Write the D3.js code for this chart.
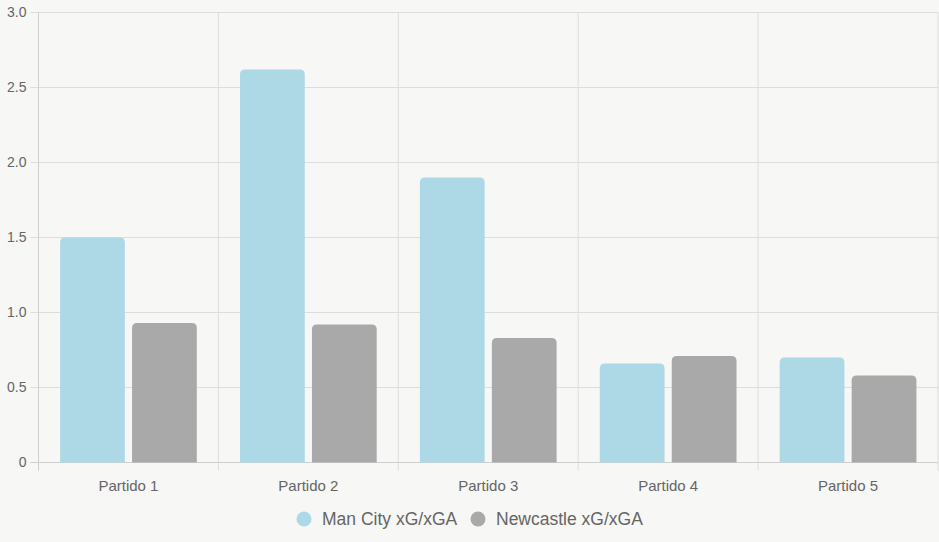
<!DOCTYPE html>
<html>
<head>
<meta charset="utf-8">
<script src="https://cdn.jsdelivr.net/npm/d3@7"></script>
<style>
	html, body { margin: 0; padding: 0; background: #f7f7f5; }
	svg { display: block; font-family: "Liberation Sans", Arial, sans-serif; }
	.grid line { stroke: #dddddd; }
	.tick text { fill: #666666; }
</style>
</head>
<body>
<div id="chart"></div>
<script>
var categories = ["Partido 1", "Partido 2", "Partido 3", "Partido 4", "Partido 5"];
var seriesNames = ["Man City xG/xGA", "Newcastle xG/xGA"];
var manCity = [1.5, 2.62, 1.9, 0.66, 0.70];
var newcastle = [0.93, 0.92, 0.83, 0.71, 0.58];
var yTicks = [0, 0.5, 1.0, 1.5, 2.0, 2.5, 3.0];
var colors = ["#add8e6", "#a9a9a9"];

(function() {
	var W = 939, H = 542,
		margin = { top: 12.5, right: 1, bottom: 80, left: 38.5 },
		width = W - margin.left - margin.right,
		height = 462.5 - margin.top,
		series = [manCity, newcastle];

	var svg = d3.select("#chart").append("svg")
		.attr("width", W)
		.attr("height", H);

	var g = svg.append("g")
		.attr("transform", "translate(" + margin.left + "," + margin.top + ")");

	var x = d3.scaleBand().domain(categories).range([0, width]).paddingInner(0).paddingOuter(0);
	var x1 = d3.scaleBand().domain([0, 1]).range([x.bandwidth() * 0.1, x.bandwidth() * 0.9]);
	var y = d3.scaleLinear().domain([0, 3]).range([height, 0]);

	// horizontal grid + y ticks
	var yg = g.append("g").attr("class", "grid");
	yg.selectAll("line")
		.data(yTicks)
		.join("line")
		.attr("x1", -8).attr("x2", width)
		.attr("y1", function(d) { return y(d); })
		.attr("y2", function(d) { return y(d); });
	g.append("g").attr("class", "tick")
		.selectAll("text")
		.data(yTicks)
		.join("text")
		.attr("x", -12)
		.attr("y", function(d) { return y(d); })
		.attr("dy", "0.35em")
		.attr("text-anchor", "end")
		.style("font-size", "14px")
		.text(function(d) { return d === 0 ? "0" : d3.format(".1f")(d); });

	// vertical grid lines
	var xEdges = categories.map(function(c) { return x(c); }).concat([width]);
	g.append("g").attr("class", "grid")
		.selectAll("line")
		.data(xEdges)
		.join("line")
		.attr("x1", function(d) { return d; })
		.attr("x2", function(d) { return d; })
		.attr("y1", 0)
		.attr("y2", height + 8);

	// axis lines slightly darker
	g.append("line").attr("x1", 0).attr("x2", 0).attr("y1", 0).attr("y2", height + 8)
		.attr("stroke", "#cfcfcf");
	g.append("line").attr("x1", -8).attr("x2", width).attr("y1", height).attr("y2", height)
		.attr("stroke", "#cfcfcf");

	// bars with rounded top
	function barPath(x0, w, top, bottom, r) {
		r = Math.min(r, (bottom - top), w / 2);
		return "M" + x0 + "," + bottom +
			"V" + (top + r) +
			"Q" + x0 + "," + top + " " + (x0 + r) + "," + top +
			"H" + (x0 + w - r) +
			"Q" + (x0 + w) + "," + top + " " + (x0 + w) + "," + (top + r) +
			"V" + bottom + "Z";
	}

	series.forEach(function(vals, si) {
		g.append("g")
			.selectAll("path")
			.data(vals)
			.join("path")
			.attr("fill", colors[si])
			.attr("d", function(d, i) {
				var bx = x(categories[i]) + x1(si) + x1.bandwidth() * 0.05;
				return barPath(bx, x1.bandwidth() * 0.9, y(d), y(0), 5);
			});
	});

	// x labels
	g.append("g").attr("class", "tick")
		.selectAll("text")
		.data(categories)
		.join("text")
		.attr("x", function(d) { return x(d) + x.bandwidth() / 2; })
		.attr("y", height + 28)
		.attr("text-anchor", "middle")
		.style("font-size", "15px")
		.text(function(d) { return d; });

	// legend
	var legend = svg.append("g").attr("transform", "translate(0,519)");
	var lx = [304, 478];
	seriesNames.forEach(function(name, i) {
		legend.append("circle")
			.attr("cx", lx[i]).attr("cy", 0).attr("r", 7.5)
			.attr("fill", colors[i]);
		legend.append("text")
			.attr("x", lx[i] + 18).attr("y", 0)
			.attr("dy", "0.35em")
			.attr("fill", "#666666")
			.style("font-size", "17.5px")
			.text(name);
	});
})();
</script>
</body>
</html>
